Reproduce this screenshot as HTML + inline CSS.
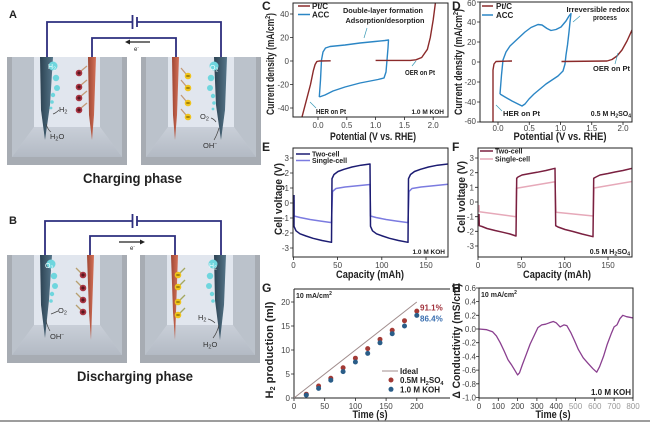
<!DOCTYPE html>
<html><head><meta charset="utf-8">
<style>
html,body{margin:0;padding:0;background:#fff;}
svg{display:block;font-family:"Liberation Sans",Arial,sans-serif;}
.t{font-size:8px;fill:#444;}
.b{font-weight:bold;fill:#222;}
</style></head>
<body>
<svg width="650" height="423" viewBox="0 0 650 423" xmlns="http://www.w3.org/2000/svg">
<defs>
<linearGradient id="de" x1="0" x2="1" y1="0" y2="0"><stop offset="0" stop-color="#2c4252"/><stop offset="1" stop-color="#557589"/></linearGradient>
<linearGradient id="re" x1="0" x2="1" y1="0" y2="0"><stop offset="0" stop-color="#9e4633"/><stop offset="1" stop-color="#d47158"/></linearGradient>
<linearGradient id="fl" x1="0" x2="0" y1="0" y2="1"><stop offset="0" stop-color="#c9cfd8"/><stop offset="1" stop-color="#b3bac4"/></linearGradient>
<g id="beaker">
<rect x="0" y="0" width="120" height="108" fill="#a7acb3"/>
<rect x="5" y="0" width="110" height="100" fill="#c6ccd5"/>
<polygon points="5,0 27,0 27,70 5,100" fill="#bbc2cb"/>
<polygon points="93,0 115,0 115,100 93,70" fill="#bbc2cb"/>
<rect x="27" y="0" width="66" height="70" fill="#e1e6ee"/>
<polygon points="27,70 93,70 115,100 5,100" fill="url(#fl)"/>
</g>
<clipPath id="cC"><rect x="293" y="3" width="155" height="114"/></clipPath>
<clipPath id="cD"><rect x="480" y="2" width="152" height="120"/></clipPath>
<clipPath id="cE"><rect x="293" y="148" width="155" height="109"/></clipPath>
<clipPath id="cF"><rect x="478" y="148" width="154" height="109"/></clipPath>
<clipPath id="cH"><rect x="479" y="288" width="154" height="110"/></clipPath>
</defs>

<!-- ============ SCHEMATIC A ============ -->
<text x="9" y="18" font-size="11" class="b">A</text>
<use href="#beaker" x="7" y="57"/>
<use href="#beaker" x="141" y="57"/>
<g stroke="#2d2e7e" stroke-width="1.8" fill="none">
<polyline points="47,58 47,22 132.5,22"/>
<polyline points="137,22 221,22 221,58"/>
<polyline points="92,58 92,38 176,38 176,58"/>
<line x1="132.5" y1="15" x2="132.5" y2="29"/>
<line x1="137" y1="17" x2="137" y2="27"/>
</g>
<line x1="150" y1="42" x2="129" y2="42" stroke="#222" stroke-width="1.3"/>
<polygon points="125,42 130,39.5 130,44.5" fill="#222"/>
<text x="134" y="51" font-size="6" fill="#222">e<tspan font-size="4.5" dy="-2">-</tspan></text>
<polygon points="40,57 53,57 50,105 45,140 41,110" fill="url(#de)"/>
<polygon points="88,57 96,57 94,115 92,140 89,115" fill="url(#re)"/>
<g fill="#6fd6de">
<circle cx="53" cy="66" r="4.5"/><circle cx="56" cy="78" r="3.2"/><circle cx="57" cy="88" r="3"/><circle cx="53" cy="95" r="2.2"/><circle cx="52" cy="102" r="1.8"/><circle cx="51" cy="108" r="1.4"/>
</g>
<text x="48" y="69" font-size="7" fill="#eaffff">H<tspan font-size="5" dy="1.5">2</tspan></text>
<text x="59" y="112" font-size="7.5" fill="#333">H<tspan font-size="5.5" dy="1.5">2</tspan></text>
<path d="M53,114 Q56,113 59,110" stroke="#444" stroke-width="0.7" fill="none"/>
<text x="50" y="139" font-size="7.5" fill="#333">H<tspan font-size="5.5" dy="1.5">2</tspan><tspan dy="-1.5">O</tspan></text>
<path d="M46,124 Q48,130 51,132" stroke="#444" stroke-width="0.7" fill="none"/>
<g stroke="#c49a78" stroke-width="1.3">
<line x1="81" y1="71" x2="87" y2="66"/><line x1="81" y1="85" x2="87" y2="80"/><line x1="81" y1="96" x2="87" y2="91"/><line x1="81" y1="108" x2="87" y2="103"/>
</g>
<g fill="#a83442"><circle cx="79" cy="73" r="3.3"/><circle cx="79" cy="87" r="3.3"/><circle cx="79" cy="98" r="3.3"/><circle cx="79" cy="110" r="3.3"/></g>
<g stroke="#3a0d12" stroke-width="0.9"><path d="M77.3,73h3.4M79,71.3v3.4M77.3,87h3.4M79,85.3v3.4M77.3,98h3.4M79,96.3v3.4M77.3,110h3.4M79,108.3v3.4"/></g>
<polygon points="172,57 179,57 177,115 175,140 173,115" fill="url(#re)"/>
<polygon points="214,57 227,57 225,110 221,140 216,105" fill="url(#de)"/>
<g fill="#6fd6de">
<circle cx="214" cy="66" r="4.5"/><circle cx="211" cy="78" r="3.2"/><circle cx="210" cy="88" r="3"/><circle cx="213" cy="96" r="2.2"/><circle cx="214" cy="103" r="1.8"/><circle cx="213" cy="109" r="1.4"/>
</g>
<text x="210" y="70" font-size="7" fill="#eaffff">O<tspan font-size="5" dy="1.5">2</tspan></text>
<text x="200" y="119" font-size="7.5" fill="#333">O<tspan font-size="5.5" dy="1.5">2</tspan></text>
<path d="M211,118 Q214,119 216,122" stroke="#444" stroke-width="0.7" fill="none"/>
<text x="203" y="148" font-size="7.5" fill="#333">OH<tspan font-size="5" dy="-3">−</tspan></text>
<path d="M219,128 Q217,135 214,140" stroke="#444" stroke-width="0.7" fill="none"/>
<g stroke="#c49a78" stroke-width="1.3">
<line x1="186" y1="74" x2="181" y2="68"/><line x1="186" y1="86" x2="181" y2="80"/><line x1="186" y1="101" x2="181" y2="95"/><line x1="186" y1="115" x2="181" y2="109"/>
</g>
<g fill="#f0c41c"><circle cx="188" cy="76" r="3.3"/><circle cx="188" cy="88" r="3.3"/><circle cx="188" cy="103" r="3.3"/><circle cx="188" cy="117" r="3.3"/></g>
<g stroke="#5a4500" stroke-width="0.9"><path d="M186.3,76h3.4M186.3,88h3.4M186.3,103h3.4M186.3,117h3.4"/></g>
<text x="132.5" y="183" font-size="14" class="b" text-anchor="middle" textLength="99" lengthAdjust="spacingAndGlyphs">Charging phase</text>

<!-- ============ SCHEMATIC B ============ -->
<text x="9" y="224" font-size="11" class="b">B</text>
<use href="#beaker" x="7" y="255"/>
<use href="#beaker" x="140" y="255"/>
<g stroke="#2d2e7e" stroke-width="1.8" fill="none">
<polyline points="45,256 45,221 132.5,221"/>
<polyline points="137,221 221,221 221,256"/>
<polyline points="90,256 90,236 175,236 175,256"/>
<line x1="132.5" y1="214" x2="132.5" y2="228"/>
<line x1="137" y1="216" x2="137" y2="226"/>
</g>
<line x1="119" y1="242" x2="141" y2="242" stroke="#222" stroke-width="1.3"/>
<polygon points="145,242 140,239.5 140,244.5" fill="#222"/>
<text x="130" y="250" font-size="6" fill="#222">e<tspan font-size="4.5" dy="-2">-</tspan></text>
<polygon points="40,255 52,255 49,300 45,338 41,305" fill="url(#de)"/>
<polygon points="87,255 94,255 92,312 91,340 89,312" fill="url(#re)"/>
<g fill="#6fd6de">
<circle cx="51" cy="264" r="4.5"/><circle cx="54" cy="276" r="3.2"/><circle cx="55" cy="286" r="3"/><circle cx="52" cy="294" r="2.2"/><circle cx="51" cy="301" r="1.8"/>
</g>
<text x="45" y="268" font-size="7" fill="#eaffff">O<tspan font-size="5" dy="1.5">2</tspan></text>
<text x="58" y="313" font-size="7.5" fill="#333">O<tspan font-size="5.5" dy="1.5">2</tspan></text>
<path d="M51,314 Q54,313 58,311" stroke="#444" stroke-width="0.7" fill="none"/>
<text x="50" y="339" font-size="7.5" fill="#333">OH<tspan font-size="5" dy="-3">−</tspan></text>
<path d="M46,320 Q47,326 50,331" stroke="#444" stroke-width="0.7" fill="none"/>
<g stroke="#b8a070" stroke-width="1.3">
<line x1="81" y1="273" x2="76" y2="268"/><line x1="81" y1="286" x2="76" y2="281"/><line x1="81" y1="298" x2="76" y2="293"/><line x1="81" y1="310" x2="76" y2="305"/>
</g>
<g fill="#a83442"><circle cx="83" cy="275" r="3.3"/><circle cx="83" cy="288" r="3.3"/><circle cx="83" cy="300" r="3.3"/><circle cx="83" cy="312" r="3.3"/></g>
<g stroke="#3a0d12" stroke-width="0.9"><path d="M81.3,275h3.4M83,273.3v3.4M81.3,288h3.4M83,286.3v3.4M81.3,300h3.4M83,298.3v3.4M81.3,312h3.4M83,310.3v3.4"/></g>
<polygon points="171,255 178,255 176,312 175,340 173,312" fill="url(#re)"/>
<polygon points="214,255 226,255 224,305 220,340 215,300" fill="url(#de)"/>
<g fill="#6fd6de">
<circle cx="213" cy="264" r="4.5"/><circle cx="210" cy="276" r="3.2"/><circle cx="209" cy="286" r="3"/><circle cx="212" cy="294" r="2.2"/><circle cx="213" cy="301" r="1.8"/>
</g>
<text x="209" y="268" font-size="7" fill="#eaffff">H<tspan font-size="5" dy="1.5">2</tspan></text>
<text x="198" y="320" font-size="7.5" fill="#333">H<tspan font-size="5.5" dy="1.5">2</tspan></text>
<path d="M208,319 Q212,320 215,323" stroke="#444" stroke-width="0.7" fill="none"/>
<text x="203" y="347" font-size="7.5" fill="#333">H<tspan font-size="5.5" dy="1.5">2</tspan><tspan dy="-1.5">O</tspan></text>
<path d="M219,325 Q217,333 213,338" stroke="#444" stroke-width="0.7" fill="none"/>
<g stroke="#a4a860" stroke-width="1.3">
<line x1="180" y1="273" x2="185" y2="268"/><line x1="180" y1="285" x2="185" y2="280"/><line x1="180" y1="300" x2="185" y2="295"/><line x1="180" y1="313" x2="185" y2="308"/>
</g>
<g fill="#f0c41c"><circle cx="178" cy="275" r="3.3"/><circle cx="178" cy="287" r="3.3"/><circle cx="178" cy="302" r="3.3"/><circle cx="178" cy="315" r="3.3"/></g>
<g stroke="#5a4500" stroke-width="0.9"><path d="M176.3,275h3.4M176.3,287h3.4M176.3,302h3.4M176.3,315h3.4"/></g>
<text x="135" y="381" font-size="14" class="b" text-anchor="middle" textLength="116" lengthAdjust="spacingAndGlyphs">Discharging phase</text>

<!-- ============ PANEL C ============ -->
<text x="262" y="10" font-size="12" class="b">C</text>
<g clip-path="url(#cC)" fill="none" stroke-width="1.4" stroke-linejoin="round">
<polyline stroke="#2b86c5" points="319.3,97 320.5,80 321.5,60 323,52 325.5,48 330,46.5 345,45 360,43 375,41.5 385,40.5 388.5,40 388,48 387,60 386,72 384,78 378,79.5 360,83 345,87 333,91 325,95 319.3,97"/>
<polyline stroke="#8b2a2a" points="301.9,117.4 306.5,99.8 310.5,84.5 313.4,70.4 315.1,64.5 316.8,61.6 319.2,61 330.7,60.8"/>
<polyline stroke="#8b2a2a" points="375.6,60.4 410.2,60.4 415.9,59.8 421.7,57.5 427.4,49.3 430.3,37.5 433.2,19.9 435.5,2.2"/>
</g>
<rect x="293" y="3" width="155" height="114" fill="none" stroke="#222" stroke-width="1"/>
<g stroke="#222" stroke-width="0.8">
<path d="M318,117v3M346.8,117v3M375.6,117v3M404.4,117v3M433.2,117v3M293,14h-3M293,37.5h-3M293,61h-3M293,84.5h-3M293,108h-3"/>
</g>
<g class="t" text-anchor="middle"><text x="318" y="128">0.0</text><text x="346.8" y="128">0.5</text><text x="375.6" y="128">1.0</text><text x="404.4" y="128">1.5</text><text x="433.2" y="128">2.0</text></g>
<g class="t" text-anchor="end"><text x="289" y="17">40</text><text x="289" y="40.5">20</text><text x="289" y="64">0</text><text x="289" y="87.5">-20</text><text x="289" y="111">-40</text></g>
<text transform="translate(274,64) rotate(-90)" font-size="11" class="b" text-anchor="middle" textLength="102" lengthAdjust="spacingAndGlyphs">Current density (mA/cm<tspan font-size="7" dy="-4">2</tspan><tspan dy="4">)</tspan></text>
<text x="373" y="140" font-size="11" class="b" text-anchor="middle" textLength="86" lengthAdjust="spacingAndGlyphs">Potential (V vs. RHE)</text>
<line x1="298" y1="6" x2="310" y2="6" stroke="#8b2a2a" stroke-width="1.5"/><text x="312" y="9" font-size="8" class="b">Pt/C</text>
<line x1="298" y1="14.5" x2="310" y2="14.5" stroke="#2b86c5" stroke-width="1.5"/><text x="312" y="17.5" font-size="8" class="b">ACC</text>
<text x="383" y="13" font-size="7.5" class="b" text-anchor="middle" textLength="80" lengthAdjust="spacingAndGlyphs">Double-layer formation</text>
<text x="385" y="23" font-size="7.5" class="b" text-anchor="middle" textLength="79" lengthAdjust="spacingAndGlyphs">Adsorption/desorption</text>
<line x1="367" y1="28" x2="364" y2="38" stroke="#3a9ab5" stroke-width="0.7"/>
<text x="405" y="75" font-size="7.5" class="b" textLength="30" lengthAdjust="spacingAndGlyphs">OER on Pt</text>
<line x1="416" y1="61" x2="412" y2="66" stroke="#3a9ab5" stroke-width="0.7"/>
<text x="316" y="114" font-size="7.5" class="b" textLength="30" lengthAdjust="spacingAndGlyphs">HER on Pt</text>
<line x1="310" y1="102" x2="316" y2="108" stroke="#3a9ab5" stroke-width="0.7"/>
<text x="444" y="114" font-size="6.5" class="b" text-anchor="end">1.0 M KOH</text>

<!-- ============ PANEL D ============ -->
<text x="452" y="10" font-size="12" class="b">D</text>
<g clip-path="url(#cD)" fill="none" stroke-width="1.4" stroke-linejoin="round">
<polyline stroke="#2b86c5" points="500,94 501.5,75 503,60 506,52 510,46 518,38.5 525,32 531,27.5 538,24.5 542,25 547,28.5 551,30.5 556,29.5 561,27 566,21 569,16 571,13.5 570,22 569,32 567.5,45 566,55 565,64 563,71 558,76 552,80 546,84 540,89 534,94 529,99 525,104 522,106 518,104 512,101 505,97 500,94"/>
<polyline stroke="#8b2a2a" points="493,123 493,70 494,64 496,61.5 512,61"/>
<polyline stroke="#8b2a2a" points="561.5,61.5 607,61 612,59.5 617,56 622,50 627,41 632,30 636,20"/>
</g>
<rect x="480" y="2" width="152" height="120" fill="none" stroke="#222" stroke-width="1"/>
<g stroke="#222" stroke-width="0.8">
<path d="M498,122v3M529.25,122v3M560.5,122v3M591.75,122v3M623,122v3M480,2h-3M480,22h-3M480,42h-3M480,62h-3M480,82h-3M480,102h-3M480,122h-3"/>
</g>
<g class="t" text-anchor="middle"><text x="498" y="131">0.0</text><text x="529.25" y="131">0.5</text><text x="560.5" y="131">1.0</text><text x="591.75" y="131">1.5</text><text x="623" y="131">2.0</text></g>
<g class="t" text-anchor="end"><text x="476" y="6">60</text><text x="476" y="25">40</text><text x="476" y="45">20</text><text x="476" y="65">0</text><text x="476" y="85">-20</text><text x="476" y="105">-40</text><text x="476" y="124">-60</text></g>
<text transform="translate(462,62) rotate(-90)" font-size="11" class="b" text-anchor="middle" textLength="106" lengthAdjust="spacingAndGlyphs">Current density (mA/cm<tspan font-size="7" dy="-4">2</tspan><tspan dy="4">)</tspan></text>
<text x="560" y="140" font-size="11" class="b" text-anchor="middle" textLength="93" lengthAdjust="spacingAndGlyphs">Potential (V vs. RHE)</text>
<line x1="482" y1="6" x2="493" y2="6" stroke="#8b2a2a" stroke-width="1.5"/><text x="496" y="9" font-size="8" class="b">Pt/C</text>
<line x1="482" y1="15" x2="493" y2="15" stroke="#2b86c5" stroke-width="1.5"/><text x="496" y="18" font-size="8" class="b">ACC</text>
<text x="598" y="12" font-size="7.5" class="b" text-anchor="middle" textLength="63" lengthAdjust="spacingAndGlyphs">Irreversible redox</text>
<text x="605" y="20" font-size="7.5" class="b" text-anchor="middle" textLength="24" lengthAdjust="spacingAndGlyphs">process</text>
<line x1="573" y1="22" x2="580" y2="16" stroke="#3a9ab5" stroke-width="0.7"/>
<text x="593" y="71" font-size="7.5" class="b" textLength="37" lengthAdjust="spacingAndGlyphs">OER on Pt</text>
<line x1="618" y1="53" x2="615" y2="64" stroke="#3a9ab5" stroke-width="0.7"/>
<text x="503" y="116" font-size="7.5" class="b" textLength="37" lengthAdjust="spacingAndGlyphs">HER on Pt</text>
<line x1="496" y1="105" x2="502" y2="111" stroke="#3a9ab5" stroke-width="0.7"/>
<text x="631" y="116" font-size="7" class="b" text-anchor="end">0.5 M H<tspan font-size="5" dy="1.5">2</tspan><tspan dy="-1.5">SO</tspan><tspan font-size="5" dy="1.5">4</tspan></text>

<!-- ============ PANEL E ============ -->
<text x="262" y="151" font-size="12" class="b">E</text>
<g clip-path="url(#cE)" fill="none" stroke-width="1.5" stroke-linejoin="round">
<polyline stroke="#7b7be0" points="294,200 294,216 300,217.5 310,219.5 320,221 331.5,222.6 332.5,191.5 336,188.5 345,187 355,186 370,184.5 370.5,216 376,217.5 386,219.5 396,221 408,222.6 409,191.5 412,188.5 421,187 431,186 448,184.3"/>
<polyline stroke="#1c1c72" points="294,195 294,226.3 296,230.8 300,233.8 306,236 313,238.3 322,240.5 331.5,242.3 332,178.7 334,174.5 338,171.5 344,169.3 352,167 361,165.2 370,164 370.5,226.3 372.5,230.8 376.5,233.8 382.5,236 389.5,238.3 398.5,240.5 408,242.3 408.5,178.7 410.5,174.5 414.5,171.5 420.5,169.3 428.5,167 437.5,165.2 448,164"/>
</g>
<rect x="293" y="148" width="155" height="109" fill="none" stroke="#222" stroke-width="1"/>
<g stroke="#222" stroke-width="0.8">
<path d="M293.5,257v3M337.6,257v3M381.8,257v3M426,257v3M293,158h-3M293,173h-3M293,188h-3M293,203h-3M293,218h-3M293,233h-3M293,248h-3"/>
</g>
<g class="t" text-anchor="middle"><text x="293.5" y="268">0</text><text x="337.6" y="268">50</text><text x="381.8" y="268">100</text><text x="426" y="268">150</text></g>
<g class="t" text-anchor="end"><text x="289" y="161">3</text><text x="289" y="176">2</text><text x="289" y="191">1</text><text x="289" y="206">0</text><text x="289" y="221">-1</text><text x="289" y="236">-2</text><text x="289" y="251">-3</text></g>
<text transform="translate(282,199) rotate(-90)" font-size="11" class="b" text-anchor="middle" textLength="72" lengthAdjust="spacingAndGlyphs">Cell voltage (V)</text>
<text x="370" y="278" font-size="11" class="b" text-anchor="middle" textLength="68" lengthAdjust="spacingAndGlyphs">Capacity (mAh)</text>
<line x1="296" y1="154" x2="310" y2="154" stroke="#1c1c72" stroke-width="1.5"/><text x="312" y="156.5" font-size="7" class="b">Two-cell</text>
<line x1="296" y1="160.5" x2="310" y2="160.5" stroke="#7b7be0" stroke-width="1.5"/><text x="312" y="163" font-size="7" class="b">Single-cell</text>
<text x="445" y="254" font-size="6.5" class="b" text-anchor="end">1.0 M KOH</text>

<!-- ============ PANEL F ============ -->
<text x="452" y="151" font-size="12" class="b">F</text>
<g clip-path="url(#cF)" fill="none" stroke-width="1.5" stroke-linejoin="round">
<polyline stroke="#e6a9b9" points="479,205 479.3,211.7 516,216.7 516.5,188.3 555,181.7 556,212.3 593.3,216 594,188 632,181.5"/>
<polyline stroke="#7a2040" points="479,214 479.3,225.7 482,226.5 487,228.5 495,230.5 503,232.3 510,234 516,236 516.7,178.3 518,177 522,175 530,173.5 537,172.3 546,170.5 555,168.3 555.7,225.7 558,227 565,229.5 573,231.5 582,234 593,236.7 593.7,178.3 596,177 600,175 608,173.5 615,172 623,170.5 632,168.3"/>
</g>
<rect x="478" y="148" width="154" height="109" fill="none" stroke="#222" stroke-width="1"/>
<g stroke="#222" stroke-width="0.8">
<path d="M478,257v3M521.4,257v3M564.7,257v3M608,257v3M478,158h-3M478,172.7h-3M478,187.3h-3M478,202h-3M478,216.7h-3M478,231.3h-3M478,246h-3"/>
</g>
<g class="t" text-anchor="middle"><text x="478" y="268">0</text><text x="521.4" y="268">50</text><text x="564.7" y="268">100</text><text x="608" y="268">150</text></g>
<g class="t" text-anchor="end"><text x="474" y="161">3</text><text x="474" y="175.7">2</text><text x="474" y="190.3">1</text><text x="474" y="205">0</text><text x="474" y="219.7">-1</text><text x="474" y="234.3">-2</text><text x="474" y="249">-3</text></g>
<text transform="translate(465,197) rotate(-90)" font-size="11" class="b" text-anchor="middle" textLength="72" lengthAdjust="spacingAndGlyphs">Cell voltage (V)</text>
<text x="557" y="278" font-size="11" class="b" text-anchor="middle" textLength="68" lengthAdjust="spacingAndGlyphs">Capacity (mAh)</text>
<line x1="480" y1="151" x2="493" y2="151" stroke="#7a2040" stroke-width="1.5"/><text x="495" y="153.5" font-size="7" class="b">Two-cell</text>
<line x1="480" y1="159" x2="493" y2="159" stroke="#e6a9b9" stroke-width="1.5"/><text x="495" y="161.5" font-size="7" class="b">Single-cell</text>
<text x="630" y="254" font-size="7" class="b" text-anchor="end">0.5 M H<tspan font-size="5" dy="1.5">2</tspan><tspan dy="-1.5">SO</tspan><tspan font-size="5" dy="1.5">4</tspan></text>

<!-- ============ PANEL G ============ -->
<text x="262" y="292" font-size="12" class="b">G</text>
<path d="M294,289 L294,398 L450,398" fill="none" stroke="#222" stroke-width="1"/>
<line x1="294" y1="289" x2="450" y2="289" stroke="#222" stroke-width="1"/>
<g stroke="#222" stroke-width="0.8">
<path d="M294,398v3M324.7,398v3M355.4,398v3M386.1,398v3M416.8,398v3M294,398h-3M294,374h-3M294,350h-3M294,326h-3M294,302h-3"/>
</g>
<g class="t" text-anchor="middle"><text x="294" y="409">0</text><text x="324.7" y="409">50</text><text x="355.4" y="409">100</text><text x="386.1" y="409">150</text><text x="416.8" y="409">200</text></g>
<g class="t" text-anchor="end"><text x="290" y="401">0</text><text x="290" y="377">5</text><text x="290" y="353">10</text><text x="290" y="329">15</text><text x="290" y="305">20</text></g>
<line x1="294" y1="398" x2="416.8" y2="302" stroke="#a08c8c" stroke-width="1"/>
<g fill="#a33a35">
<circle cx="306.3" cy="394.2" r="2.5"/><circle cx="318.6" cy="386" r="2.5"/><circle cx="330.8" cy="378.3" r="2.5"/><circle cx="343.1" cy="367.8" r="2.5"/><circle cx="355.4" cy="358.2" r="2.5"/><circle cx="367.7" cy="348.6" r="2.5"/><circle cx="380" cy="339.4" r="2.5"/><circle cx="392.2" cy="330.3" r="2.5"/><circle cx="404.5" cy="320.7" r="2.5"/><circle cx="416.8" cy="311.1" r="2.5"/>
</g>
<g fill="#2a5d88">
<circle cx="306.3" cy="395.1" r="2.5"/><circle cx="318.6" cy="388.4" r="2.5"/><circle cx="330.8" cy="380.2" r="2.5"/><circle cx="343.1" cy="371.6" r="2.5"/><circle cx="355.4" cy="362" r="2.5"/><circle cx="367.7" cy="353.4" r="2.5"/><circle cx="380" cy="342.8" r="2.5"/><circle cx="392.2" cy="333.7" r="2.5"/><circle cx="404.5" cy="326" r="2.5"/><circle cx="416.8" cy="315.4" r="2.5"/>
</g>
<text x="420" y="310.5" font-size="8" font-weight="bold" fill="#a0303a">91.1%</text>
<text x="420" y="321.5" font-size="8" font-weight="bold" fill="#3a6fb0">86.4%</text>
<text x="296" y="298" font-size="7" class="b">10 mA/cm<tspan font-size="5" dy="-3">2</tspan></text>
<line x1="382" y1="371" x2="398" y2="371" stroke="#a08c8c" stroke-width="1"/>
<text x="400" y="374" font-size="8" class="b">Ideal</text>
<circle cx="391" cy="380" r="2.5" fill="#a33a35"/>
<text x="400" y="383" font-size="8" class="b">0.5M H<tspan font-size="5.5" dy="2">2</tspan><tspan dy="-2">SO</tspan><tspan font-size="5.5" dy="2">4</tspan></text>
<circle cx="391" cy="389.3" r="2.5" fill="#2a5d88"/>
<text x="400" y="392.5" font-size="8" class="b">1.0 M KOH</text>
<text transform="translate(273,350) rotate(-90)" font-size="11" class="b" text-anchor="middle" textLength="97" lengthAdjust="spacingAndGlyphs">H<tspan font-size="7" dy="2">2</tspan><tspan dy="-2"> production (ml)</tspan></text>
<text x="370" y="418" font-size="11" class="b" text-anchor="middle" textLength="35" lengthAdjust="spacingAndGlyphs">Time (s)</text>

<!-- ============ PANEL H ============ -->
<text x="452" y="292" font-size="12" class="b">H</text>
<g clip-path="url(#cH)">
<polyline fill="none" stroke="#8a3f8f" stroke-width="1.3" stroke-linejoin="round" points="479,329 486.7,329.7 492.5,331.7 496.4,335.9 500.2,342.7 504.1,350.9 508,359.8 511.8,365.3 514.7,370.1 517.6,374.9 519.5,372.8 522.4,364.6 526.3,354.3 530.1,344.1 534,335.9 537.9,327.6 541.7,324.9 545.6,324.2 549.4,322.8 553.3,321.5 556.2,322.8 560.1,326.9 563.9,324.9 566.8,325.6 570.7,332.4 574.5,340.6 578.4,349.6 583.2,357.8 588,363.3 592.9,368.7 596.7,372.2 599.6,366.7 603.5,356.4 607.3,344.1 611.2,333.8 614.1,326.9 617,324.9 619.9,318.7 622.8,315.3 626.6,316.7 633.4,318"/>
</g>
<rect x="479" y="288" width="154" height="110" fill="none" stroke="#222" stroke-width="1"/>
<g stroke="#222" stroke-width="0.8">
<path d="M479,398v3M498.3,398v3M517.6,398v3M536.9,398v3M556.2,398v3M575.5,398v3M594.8,398v3M614.1,398v3M633,398v3M479,288h-3M479,301.6h-3M479,315.3h-3M479,329h-3M479,342.7h-3M479,356.4h-3M479,370.1h-3M479,383.8h-3M479,397.5h-3"/>
</g>
<g class="t" text-anchor="middle"><text x="479" y="409">0</text><text x="498.3" y="409">100</text><text x="517.6" y="409">200</text><text x="536.9" y="409">300</text><text x="556.2" y="409">400</text><text x="575.5" y="409" fill="#999">500</text><text x="594.8" y="409" fill="#999">600</text><text x="614.1" y="409" fill="#999">700</text><text x="633" y="409" fill="#999">800</text></g>
<g class="t" text-anchor="end"><text x="476" y="291">0.6</text><text x="476" y="304.6">0.4</text><text x="476" y="318.3">0.2</text><text x="476" y="332">0.0</text><text x="476" y="345.7">-0.2</text><text x="476" y="359.4">-0.4</text><text x="476" y="373.1">-0.6</text><text x="476" y="386.8">-0.8</text><text x="476" y="400.5">-1.0</text></g>
<text x="481" y="297" font-size="7" class="b">10 mA/cm<tspan font-size="5" dy="-3">2</tspan></text>
<text x="631" y="395" font-size="8" class="b" text-anchor="end">1.0 M KOH</text>
<text transform="translate(460,341) rotate(-90)" font-size="11" class="b" text-anchor="middle" textLength="115" lengthAdjust="spacingAndGlyphs">Δ Conductivity (mS/cm)</text>
<text x="553" y="418" font-size="11" class="b" text-anchor="middle" textLength="35" lengthAdjust="spacingAndGlyphs">Time (s)</text>

<line x1="0" y1="421" x2="650" y2="421" stroke="#7d7d7d" stroke-width="1.5"/>
</svg>
</body></html>
